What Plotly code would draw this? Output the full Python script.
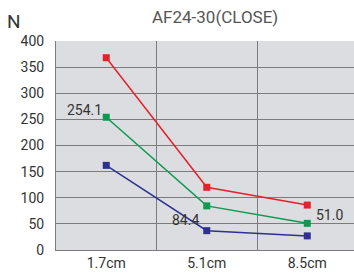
import plotly.graph_objects as go

categories = ["1.7cm", "5.1cm", "8.5cm"]
red_vals = [368, 120, 86]
green_vals = [254.1, 84.4, 51.0]
blue_vals = [162, 37, 27]
y_ticks = [0, 50, 100, 150, 200, 250, 300, 350, 400]
title_text = "AF24-30(CLOSE)"
unit_text = "N"

FONT = "Roboto, DejaVu Sans, sans-serif"
GRID = "#7b7b7b"

fig = go.Figure()
for vals, col in [(red_vals, "#e3222b"), (green_vals, "#0b9a4f"), (blue_vals, "#2e3192")]:
    fig.add_trace(go.Scatter(
        x=categories, y=vals, mode="lines+markers",
        line=dict(color=col, width=1.5),
        marker=dict(symbol="square", size=7, color=col),
        showlegend=False, hoverinfo="skip", cliponaxis=False))

fig.add_annotation(x=categories[0], y=green_vals[0], text=f"{green_vals[0]:.1f}",
                   showarrow=False, xanchor="right", yanchor="middle", xshift=-2, yshift=7,
                   font=dict(size=14, color="#333333", family=FONT))
fig.add_annotation(x=categories[1], y=green_vals[1], text=f"{green_vals[1]:.1f}",
                   showarrow=False, xanchor="center", yanchor="top", xshift=-21, yshift=-4,
                   font=dict(size=14, color="#333333", family=FONT))
fig.add_annotation(x=categories[2], y=green_vals[2], text=f"{green_vals[2]:.1f}",
                   showarrow=False, xanchor="left", yanchor="middle", xshift=7, yshift=8,
                   font=dict(size=14, color="#333333", family=FONT))

fig.add_annotation(xref="paper", yref="paper", x=0.535, y=1.0, yshift=12,
                   text=title_text, showarrow=False, xanchor="center", yanchor="bottom",
                   font=dict(size=17, color="#555555", family=FONT))
fig.add_annotation(xref="paper", yref="paper", x=-0.14, y=1.0, yshift=6,
                   text=unit_text, showarrow=False, xanchor="center", yanchor="bottom",
                   font=dict(size=19, color="#333333", family=FONT))

fig.update_layout(
    width=354, height=274,
    margin=dict(l=56, r=0, t=41, b=24, autoexpand=False),
    paper_bgcolor="white", plot_bgcolor="#dcdde0",
    font=dict(family=FONT, size=14, color="#333333"),
    xaxis=dict(type="category", range=[-0.5, 2.465], tickson="boundaries",
               showgrid=True, gridcolor=GRID, gridwidth=1, automargin=False,
               showline=True, linecolor=GRID, linewidth=1,
               ticks="outside", ticklen=2, tickcolor="rgba(0,0,0,0)",
               tickfont=dict(size=14, color="#333333"), fixedrange=True),
    yaxis=dict(range=[0, 400], tickvals=y_ticks, showgrid=True, gridcolor=GRID, gridwidth=1,
               showline=True, linecolor=GRID, linewidth=1, zeroline=False, automargin=False,
               ticks="outside", ticklen=8, tickcolor="rgba(0,0,0,0)",
               tickfont=dict(size=14, color="#333333"), fixedrange=True),
)

fig.write_html("out.html", config={"displayModeBar": False, "staticPlot": True},
               post_script="document.body.style.margin='0';document.body.style.overflow='hidden';")
